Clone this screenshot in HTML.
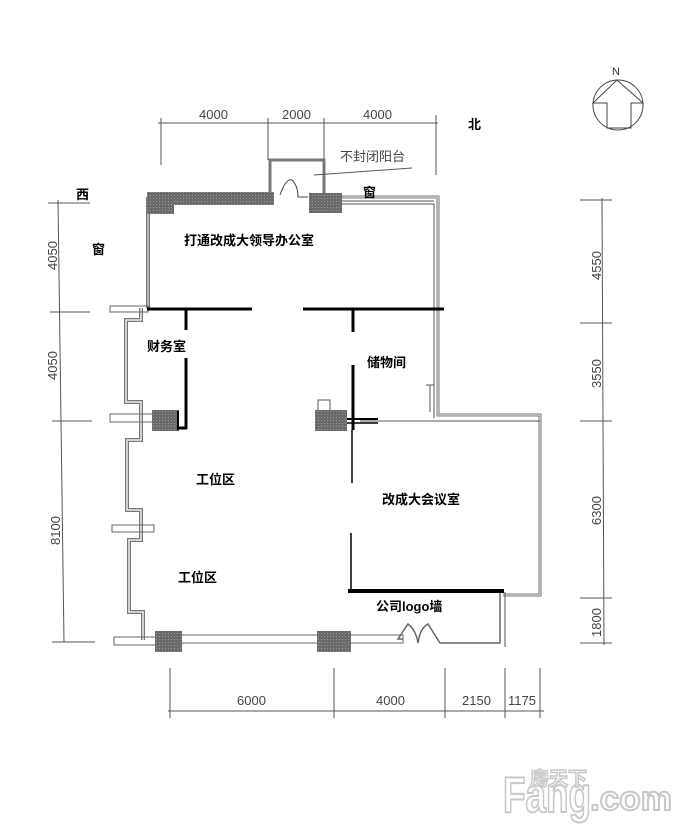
<!DOCTYPE html>
<html><head><meta charset="utf-8"><style>
html,body{margin:0;padding:0;background:#fff;}
svg{display:block;}
text{font-family:"Liberation Sans","Noto Sans CJK SC",sans-serif;}
</style></head><body>
<svg width="690" height="837" viewBox="0 0 690 837" xmlns="http://www.w3.org/2000/svg">
<defs>
<pattern id="hat" width="3" height="3" patternUnits="userSpaceOnUse"><rect width="3" height="3" fill="#6a6a6a"/><rect width="1" height="1" fill="#9a9a9a"/></pattern>
</defs>
<g stroke="#555" stroke-width="1" fill="none">
<line x1="158" y1="123" x2="438" y2="123"/>
<line x1="161" y1="118" x2="161" y2="165"/><line x1="268" y1="118" x2="268" y2="160"/>
<line x1="324" y1="118" x2="324" y2="160"/><line x1="436" y1="115" x2="436" y2="175"/>
<line x1="58" y1="200" x2="64" y2="642"/>
<line x1="48" y1="203" x2="90" y2="203"/><line x1="50" y1="312" x2="90" y2="312"/>
<line x1="52" y1="421" x2="92" y2="421"/><line x1="52" y1="642" x2="95" y2="642"/>
<line x1="602" y1="198" x2="604" y2="645"/>
<line x1="580" y1="200" x2="612" y2="200"/><line x1="580" y1="323" x2="612" y2="323"/>
<line x1="580" y1="421" x2="612" y2="421"/><line x1="580" y1="598" x2="612" y2="598"/>
<line x1="580" y1="643" x2="612" y2="643"/>
<line x1="168" y1="711" x2="544" y2="711"/>
<line x1="170" y1="668" x2="170" y2="718"/><line x1="334" y1="668" x2="334" y2="718"/>
<line x1="445" y1="668" x2="445" y2="718"/><line x1="505" y1="668" x2="505" y2="718"/>
<line x1="540" y1="668" x2="540" y2="718"/>
<path d="M270 195 V160 H324 V195" stroke-width="3" stroke="#777"/>
<path d="M272 195 V162 H322 V195" stroke="#fff" stroke-width="1"/>
<path d="M280 195 Q286 178 292 180 Q298 186 298 197 H308" stroke="#444"/>
<line x1="314" y1="175" x2="412" y2="168"/>
<path d="M342 197 H438 V415 H540 V595 H503" stroke-width="3" stroke="#777"/>
<path d="M342 197 H438 V415 H540 V595 H503" stroke="#eee" stroke-width="1"/>
<line x1="342" y1="201" x2="434" y2="201"/><line x1="342" y1="204" x2="434" y2="204"/>
<path d="M434 204 V418" />
<path d="M148 197 V308" stroke-width="4" stroke="#777"/>
<line x1="148" y1="198" x2="148" y2="306" stroke="#eee"/>
<path d="M430 385 V412 M426 385 H434"/>
<path d="M318 414 V400 H330 V414"/>
<line x1="360" y1="421" x2="540" y2="421"/>
<path d="M141 308 V320 H126 V402 H141 V440 H127 V510 H141 V540 H129 V612 H143 V640" stroke-width="4" stroke="#777"/>
<path d="M141 308 V320 H126 V402 H141 V440 H127 V510 H141 V540 H129 V612 H143 V640" stroke="#eee" stroke-width="1.5"/>
<rect x="110" y="306" width="38" height="6" stroke="#666"/>
<rect x="110" y="414" width="44" height="8" stroke="#666"/>
<rect x="112" y="525" width="42" height="7" stroke="#666"/>
<rect x="114" y="637" width="44" height="8" stroke="#666"/>
<rect x="158" y="635" width="245" height="8" stroke="#666"/>
<path d="M403 639 H398 L408 624 Q416 630 418 643 Q420 628 428 624 L440 643 H500 V592" stroke="#666" stroke-width="1.5"/>
<line x1="505" y1="592" x2="505" y2="647"/>
</g>
<path d="M147 192 H274 V205 H174 V214 H147 Z" fill="url(#hat)"/>
<rect x="309" y="193" width="33" height="20" fill="url(#hat)"/>
<rect x="152" y="410" width="27" height="21" fill="url(#hat)"/>
<rect x="315" y="410" width="32" height="21" fill="url(#hat)"/>
<rect x="155" y="631" width="27" height="21" fill="url(#hat)"/>
<rect x="317" y="631" width="34" height="21" fill="url(#hat)"/>
<g stroke="#000" fill="none">
<line x1="147" y1="309" x2="252" y2="309" stroke-width="3"/>
<line x1="303" y1="309" x2="444" y2="309" stroke-width="3"/>
<line x1="186" y1="309" x2="186" y2="330" stroke-width="3"/>
<line x1="186" y1="358" x2="186" y2="429" stroke-width="3"/>
<line x1="178" y1="428" x2="187" y2="428" stroke-width="3"/>
<line x1="178" y1="411" x2="178" y2="430" stroke-width="2"/>
<line x1="353" y1="309" x2="353" y2="332" stroke-width="3"/>
<line x1="353" y1="365" x2="353" y2="430" stroke-width="3"/>
<line x1="347" y1="419" x2="378" y2="419" stroke-width="2"/>
<line x1="347" y1="423" x2="378" y2="423" stroke-width="1.5"/>
<line x1="352" y1="430" x2="352" y2="483" stroke-width="1.5"/>
<line x1="351" y1="533" x2="351" y2="591" stroke-width="1.5"/>
<line x1="348" y1="591" x2="504" y2="591" stroke-width="4"/>
</g>
<g fill="#444" font-size="13">
<text x="199" y="119">4000</text><text x="282" y="119">2000</text><text x="363" y="119">4000</text>
<text x="237" y="705">6000</text><text x="376" y="705">4000</text><text x="462" y="705">2150</text><text x="508" y="705">1175</text>
<text transform="translate(57,270) rotate(-90)">4050</text>
<text transform="translate(57,380) rotate(-90)">4050</text>
<text transform="translate(60,545) rotate(-90)">8100</text>
<text transform="translate(601,280) rotate(-90)">4550</text>
<text transform="translate(601,388) rotate(-90)">3550</text>
<text transform="translate(601,525) rotate(-90)">6300</text>
<text transform="translate(601,637) rotate(-90)">1800</text>
<text x="340" y="161" font-size="13">不封闭阳台</text>
</g>
<g fill="#000" font-size="13" font-weight="bold">
<text x="468" y="129">北</text><text x="76" y="199">西</text>
<text x="92" y="254">窗</text><text x="363" y="197">窗</text>
<text x="184" y="245">打通改成大领导办公室</text>
<text x="147" y="351">财务室</text>
<text x="367" y="367">储物间</text>
<text x="196" y="484">工位区</text>
<text x="178" y="582">工位区</text>
<text x="382" y="504">改成大会议室</text>
<text x="376" y="611">公司logo墙</text>
</g>
<g stroke="#444" fill="none" stroke-width="1">
<circle cx="618" cy="105" r="25"/>
<path d="M593 103 L617 80 L643 103 H631 V128 H607 V103 Z"/>
</g>
<text x="612" y="75" font-size="11" fill="#333">N</text>
<g font-family="'Liberation Sans',sans-serif" font-weight="bold">
<text x="503" y="812" font-size="50" fill="#fff" stroke="#c8c8c8" stroke-width="2" textLength="88" lengthAdjust="spacingAndGlyphs">Fang</text>
<text x="590" y="810" font-size="34" fill="#fff" stroke="#c8c8c8" stroke-width="2" textLength="82" lengthAdjust="spacingAndGlyphs">.com</text>
<text x="530" y="785" font-size="19" fill="#fff" stroke="#c8c8c8" stroke-width="1.5" style="font-family:'Noto Sans CJK SC',sans-serif">房天下</text>
</g>
</svg>
</body></html>
